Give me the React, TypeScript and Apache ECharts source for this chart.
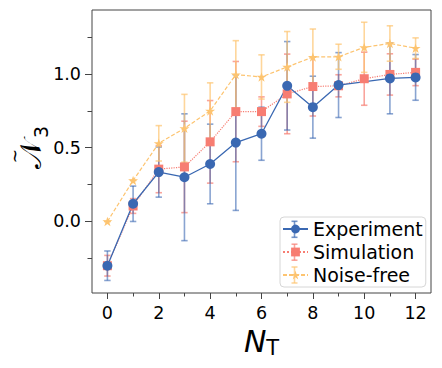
import React, { useEffect, useRef } from "react";
import * as echarts from "echarts";

const xs = [0, 1, 2, 3, 4, 5, 6, 7, 8, 9, 10, 11, 12];
const expY = [-0.3, 0.12, 0.335, 0.3, 0.39, 0.535, 0.595, 0.92, 0.775, 0.925, null, 0.97, 0.977];
const expErr = [0.1, 0.12, 0.17, 0.43, 0.27, 0.46, 0.18, 0.3, 0.21, 0.22, null, 0.24, 0.155];
const simY = [-0.3, 0.105, 0.355, 0.37, 0.54, 0.745, 0.745, 0.865, 0.915, 0.92, 0.968, 0.997, 1.011];
const simErr = [0.07, 0.05, 0.16, 0.31, 0.28, 0.34, 0.1, 0.27, 0.2, 0.075, 0.18, 0.14, 0.09];
const nfY = [0.0, 0.278, 0.53, 0.632, 0.75, 0.996, 0.98, 1.048, 1.115, 1.117, 1.181, 1.207, 1.175];
const nfErr = [0, 0, 0.12, 0.23, 0.19, 0.23, 0.15, 0.24, 0.19, 0.085, 0.17, 0.12, 0.07];
const xMajor = [0, 2, 4, 6, 8, 10, 12];
const xMinor = [1, 3, 5, 7, 9, 11];
const yMajor = [0, 0.5, 1.0];
const yMinor = [-0.25, 0.25, 0.75, 1.25];

const C_EXP = "#3a68b2";
const C_SIM = "#f77d72";
const C_NF = "#fdc470";
const STAR =
  "path://M0,-1L0.2233,-0.3074L0.9511,-0.309L0.3614,0.1174L0.5878,0.809L0,0.38L-0.5878,0.809L-0.3614,0.1174L-0.9511,-0.309L-0.2233,-0.3074Z";

const FONT = "DejaVu Sans";

function errSeries(name: string, ys: (number | null)[], es: (number | null)[], color: string, opacity: number) {
  const data = xs
    .map((x, i) => (ys[i] == null || es[i] == null ? null : [x, ys[i], es[i]]))
    .filter((d) => d !== null);
  return {
    type: "custom",
    name,
    data,
    silent: true,
    renderItem: (params: any, api: any) => {
      const x = api.value(0);
      const y = api.value(1);
      const e = api.value(2);
      const top = api.coord([x, y + e]);
      const bot = api.coord([x, y - e]);
      const cap = 3.2;
      const style = { stroke: color, lineWidth: 1.6, opacity };
      return {
        type: "group",
        children: [
          { type: "line", shape: { x1: top[0], y1: top[1], x2: bot[0], y2: bot[1] }, style },
          { type: "line", shape: { x1: top[0] - cap, y1: top[1], x2: top[0] + cap, y2: top[1] }, style },
          { type: "line", shape: { x1: bot[0] - cap, y1: bot[1], x2: bot[0] + cap, y2: bot[1] }, style },
        ],
      };
    },
  };
}

export default function App() {
  const ref = useRef<HTMLDivElement>(null);
  useEffect(() => {
    if (!ref.current) return;
    const chart = echarts.init(ref.current, null, { renderer: "svg" });
    const axisCommon = {
      type: "value",
      axisLine: { show: false, onZero: false },
      splitLine: { show: false },
    };
    const legendLeft = 280;
    const iconCx = legendLeft + 2 + 12.5;
    const rows = [229.3, 252.2, 275];
    const legendBars = [C_EXP, C_SIM, C_NF].map((c, i) => ({
      type: "group",
      silent: true,
      z: 20,
      children: [
        { type: "line", z: 20, shape: { x1: iconCx, y1: rows[i] - 8, x2: iconCx, y2: rows[i] + 8 }, style: { stroke: c, lineWidth: 1.6, opacity: 0.7 } },
        { type: "line", z: 20, shape: { x1: iconCx - 3, y1: rows[i] - 8, x2: iconCx + 3, y2: rows[i] - 8 }, style: { stroke: c, lineWidth: 1.6, opacity: 0.7 } },
        { type: "line", z: 20, shape: { x1: iconCx - 3, y1: rows[i] + 8, x2: iconCx + 3, y2: rows[i] + 8 }, style: { stroke: c, lineWidth: 1.6, opacity: 0.7 } },
      ],
    }));
    const yLabel = {
      type: "group",
      silent: true,
      children: [
        {
          type: "text",
          x: 30,
          y: 154,
          rotation: Math.PI / 2,
          style: { text: "\u{1D4A9}", fontSize: 30, fontFamily: FONT, fill: "#000", align: "center", verticalAlign: "middle" },
        },
        {
          type: "text",
          x: 15,
          y: 156,
          rotation: Math.PI / 2,
          style: { text: "~", fontSize: 17, fontFamily: FONT, fill: "#000", align: "center", verticalAlign: "middle" },
        },
        {
          type: "text",
          x: 41,
          y: 132,
          rotation: Math.PI / 2,
          style: { text: "3", fontSize: 19, fontFamily: FONT, fill: "#000", align: "center", verticalAlign: "middle" },
        },
      ],
    };
    chart.setOption({
      animation: false,
      backgroundColor: "#ffffff",
      textStyle: { fontFamily: FONT },
      grid: { left: 92, top: 10, right: 11, bottom: 75, show: true, borderColor: "#444", borderWidth: 1, backgroundColor: "transparent" },
      xAxis: [
        {
          ...axisCommon,
          min: -0.6,
          max: 12.6,
          position: "bottom",
          axisTick: { show: true, customValues: xMajor, length: 6, lineStyle: { color: "#444", width: 1 } },
          axisLabel: { show: true, customValues: xMajor, margin: 11, fontSize: 17.5, color: "#000", fontFamily: FONT },
          name: "{i|N}{s|T}",
          nameLocation: "middle",
          nameGap: 30,
          nameTextStyle: {
            rich: {
              i: { fontSize: 30, fontStyle: "italic", fontFamily: FONT, color: "#000" },
              s: { fontSize: 21, fontFamily: FONT, color: "#000", verticalAlign: "bottom", padding: [12, 0, 0, 0] },
            },
          },
        },
        {
          ...axisCommon,
          min: -0.6,
          max: 12.6,
          position: "bottom",
          axisTick: { show: true, customValues: xMinor, length: 3.5, lineStyle: { color: "#444", width: 1 } },
          axisLabel: { show: false },
        },
      ],
      yAxis: [
        {
          ...axisCommon,
          min: -0.485,
          max: 1.434,
          position: "left",
          axisTick: { show: true, customValues: yMajor, length: 7, lineStyle: { color: "#444", width: 1 } },
          axisLabel: {
            show: true,
            customValues: yMajor,
            margin: 11,
            fontSize: 17.5,
            color: "#000",
            fontFamily: FONT,
            formatter: (v: number) => v.toFixed(1),
          },
        },
        {
          ...axisCommon,
          min: -0.485,
          max: 1.434,
          position: "left",
          axisTick: { show: true, customValues: yMinor, length: 4.5, lineStyle: { color: "#444", width: 1 } },
          axisLabel: { show: false },
        },
      ],
      legend: {
        data: ["Experiment", "Simulation", "Noise-free"],
        orient: "vertical",
        left: legendLeft,
        top: 217,
        padding: [2, 3, 2, 2],
        itemGap: 3,
        itemWidth: 25,
        itemHeight: 11,
        borderColor: "#d6d6d6",
        borderWidth: 1,
        borderRadius: 4,
        backgroundColor: "rgba(255,255,255,0.8)",
        textStyle: { fontSize: 19, fontFamily: FONT, color: "#000", lineHeight: 20 },
        selectedMode: false,
      },
      graphic: [...legendBars, yLabel],
      series: [
        errSeries("simErr", simY, simErr, C_SIM, 0.7),
        {
          type: "line",
          name: "Simulation",
          data: xs.map((x, i) => [x, simY[i]]),
          symbol: "rect",
          symbolSize: 9,
          itemStyle: { color: C_SIM },
          lineStyle: { color: C_SIM, width: 1.2, type: "dotted" },
        },
        errSeries("expErr", expY, expErr, C_EXP, 0.6),
        {
          type: "line",
          name: "Experiment",
          data: xs.map((x, i) => [x, expY[i]]),
          connectNulls: true,
          symbol: "circle",
          symbolSize: 10,
          itemStyle: { color: C_EXP },
          lineStyle: { color: C_EXP, width: 1.3 },
        },
        errSeries("nfErr", nfY, nfErr, C_NF, 0.7),
        {
          type: "line",
          name: "Noise-free",
          data: xs.map((x, i) => [x, nfY[i]]),
          symbol: STAR,
          symbolSize: 10,
          symbolKeepAspect: true,
          itemStyle: { color: C_NF },
          lineStyle: { color: C_NF, width: 1.2, type: [4, 2] },
        },
      ],
    });
    return () => chart.dispose();
  }, []);
  return <div ref={ref} style={{ width: 442, height: 368, margin: -8 }} />;
}
